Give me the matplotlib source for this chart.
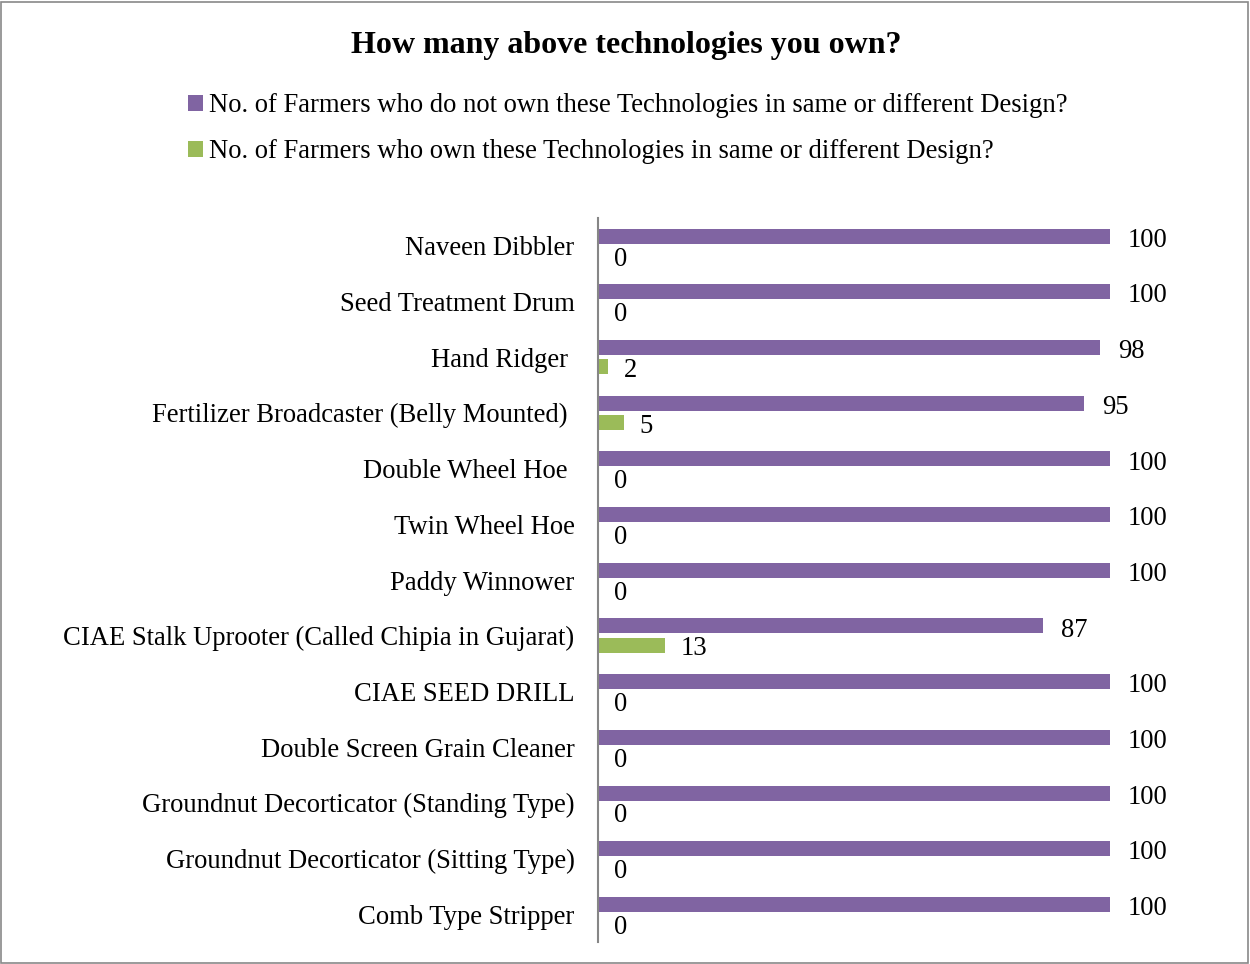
import matplotlib
matplotlib.use("Agg")
import numpy as np
import matplotlib.pyplot as plt
from matplotlib.patches import Rectangle

plt.rcParams['font.family'] = ['Liberation Serif', 'DejaVu Serif']

technologies = [
    'Naveen Dibbler',
    'Seed Treatment Drum',
    'Hand Ridger ',
    'Fertilizer Broadcaster (Belly Mounted) ',
    'Double Wheel Hoe ',
    'Twin Wheel Hoe',
    'Paddy Winnower',
    'CIAE Stalk Uprooter (Called Chipia in Gujarat)',
    'CIAE SEED DRILL',
    'Double Screen Grain Cleaner',
    'Groundnut Decorticator (Standing Type)',
    'Groundnut Decorticator (Sitting Type)',
    'Comb Type Stripper',
]
not_own = [100, 100, 98, 95, 100, 100, 100, 87, 100, 100, 100, 100, 100]
own = [0, 0, 2, 5, 0, 0, 0, 13, 0, 0, 0, 0, 0]

label_not_own = 'No. of Farmers who do not own these Technologies in same or different Design?'
label_own = 'No. of Farmers who own these Technologies in same or different Design?'

purple = '#8064A2'
green = '#9BBB59'
FS = 19.2

W, H = 1250, 964
fig = plt.figure(figsize=(W / 100, H / 100), dpi=100)

# axes placed in pixel terms: left edge at the vertical axis line
x0, x1, ytop, ybot = 598, 598 + 512 * 1.2, 218, 942
ax = fig.add_axes([x0 / W, 1 - ybot / H, (x1 - x0) / W, (ybot - ytop) / H])

y = np.arange(len(technologies))
bh = 0.27
off = 0.175
b1 = ax.barh(y - off, not_own, height=bh, color=purple, label=label_not_own)
b2 = ax.barh(y + off, own, height=bh, color=green, label=label_own)

for yi, v in zip(y, not_own):
    ax.annotate(str(v), (v, yi - off), xytext=(13, -3), textcoords='offset points',
                va='center', ha='left', fontsize=FS)
for yi, v in zip(y, own):
    ax.annotate(str(v), (v, yi + off), xytext=(11.5, -2.5), textcoords='offset points',
                va='center', ha='left', fontsize=FS)

ax.set_xlim(0, 120)
ax.set_ylim(len(technologies) - 0.5, -0.5)
ax.set_yticks(y)
ax.set_yticklabels(technologies, fontsize=FS)
ax.tick_params(axis='y', length=0, pad=17)
ax.set_xticks([])
for s in ['top', 'right', 'bottom']:
    ax.spines[s].set_visible(False)
ax.spines['left'].set_color('#868686')
ax.spines['left'].set_linewidth(1.5)

fig.text(626 / W, 1 - 46 / H, 'How many above technologies you own?',
         ha='center', va='center', fontsize=23, fontweight='bold')

fig.legend(handles=[b1, b2], loc='upper left', bbox_to_anchor=(188 / W, 1 - 93 / H),
           frameon=False, fontsize=FS, handlelength=0.55, handleheight=0.55,
           handletextpad=0.25, labelspacing=0.8, borderpad=0, borderaxespad=0)

# outer border of the chart area
fig.add_artist(Rectangle((1 / W, 1 / H), (W - 3) / W, (H - 3) / H, transform=fig.transFigure,
                         fill=False, edgecolor='#898989', linewidth=1.2))

fig.savefig('out.png', dpi=100)
